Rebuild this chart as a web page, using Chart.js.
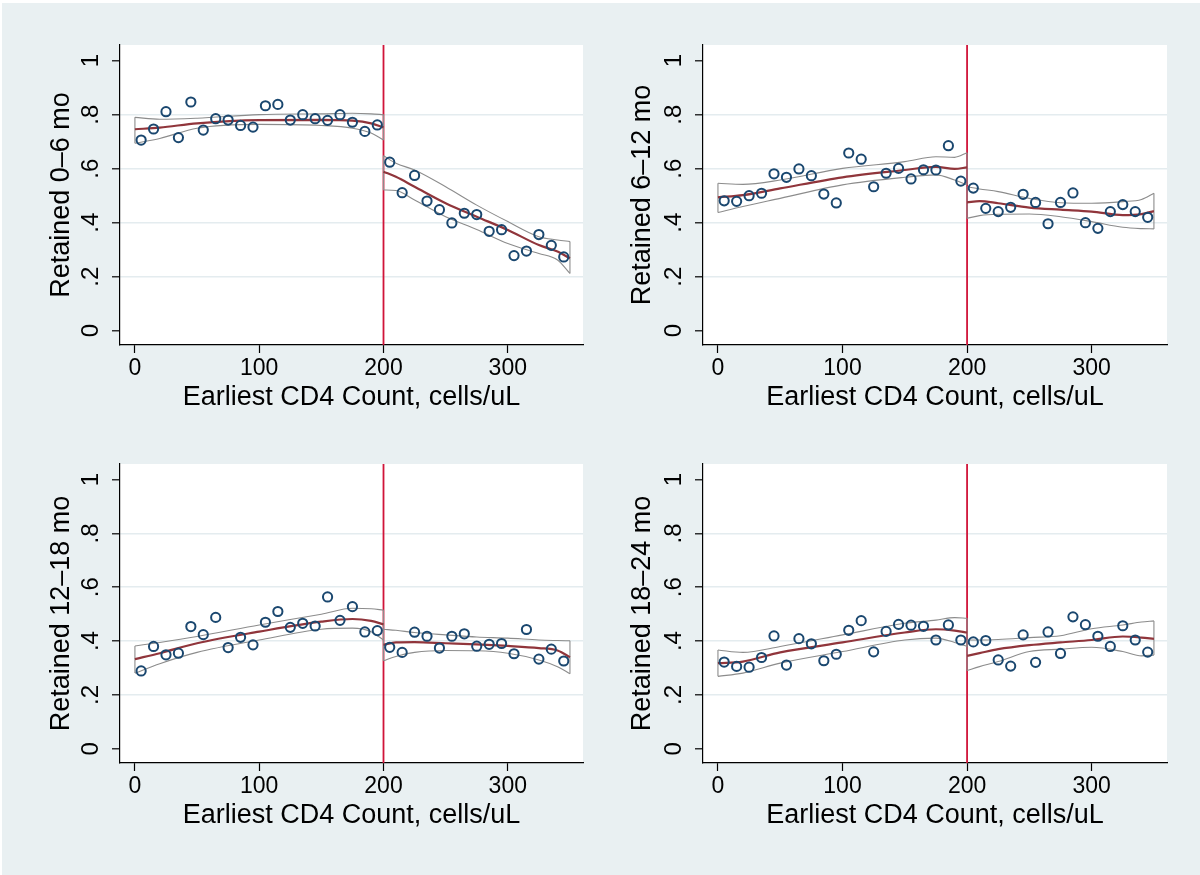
<!DOCTYPE html>
<html>
<head>
<meta charset="utf-8">
<script src="https://cdn.jsdelivr.net/npm/chart.js@4.4.1/dist/chart.umd.min.js"></script>
<style>
  html, body { margin: 0; padding: 0; background: #fff; }
  #page { position: relative; width: 1200px; height: 875px; overflow: hidden; }
  #bg { position: absolute; left: 2px; top: 3px; right: 0; bottom: 0; background: #e9f0f2; }
  canvas { position: absolute; }
</style>
</head>
<body>
<div id="page">
  <div id="bg"></div>
  <canvas id="c1" width="600" height="437" style="left:0;top:0"></canvas>
  <canvas id="c2" width="600" height="437" style="left:600px;top:0"></canvas>
  <canvas id="c3" width="600" height="438" style="left:0;top:437px"></canvas>
  <canvas id="c4" width="600" height="438" style="left:600px;top:437px"></canvas>
</div>
<script>
// bin midpoints (CD4 count)
const binX = [5, 15, 25, 35, 45, 55, 65, 75, 85, 95, 105, 115, 125, 135, 145, 155, 165, 175, 185, 195,
              205, 215, 225, 235, 245, 255, 265, 275, 285, 295, 305, 315, 325, 335, 345];

// share retained per bin
const ret06 = [0.706, 0.747, 0.811, 0.715, 0.847, 0.743, 0.785, 0.780, 0.760, 0.754, 0.833, 0.838, 0.780, 0.800, 0.785, 0.779, 0.800, 0.772, 0.738, 0.762,
               0.624, 0.511, 0.575, 0.480, 0.448, 0.399, 0.435, 0.430, 0.368, 0.374, 0.278, 0.295, 0.356, 0.316, 0.273];
const ret612 = [0.481, 0.479, 0.500, 0.509, 0.581, 0.568, 0.599, 0.574, 0.506, 0.473, 0.658, 0.635, 0.533, 0.583, 0.601, 0.562, 0.596, 0.595, 0.685, 0.554,
                0.528, 0.453, 0.441, 0.457, 0.505, 0.475, 0.396, 0.475, 0.510, 0.400, 0.379, 0.441, 0.467, 0.441, 0.420];
const ret1218 = [0.289, 0.380, 0.349, 0.355, 0.454, 0.424, 0.488, 0.376, 0.414, 0.386, 0.470, 0.510, 0.451, 0.466, 0.456, 0.564, 0.477, 0.528, 0.434, 0.439,
                 0.377, 0.358, 0.433, 0.418, 0.374, 0.418, 0.427, 0.381, 0.388, 0.391, 0.353, 0.443, 0.333, 0.370, 0.326];
const ret1824 = [0.322, 0.306, 0.303, 0.339, 0.419, 0.311, 0.409, 0.390, 0.327, 0.351, 0.440, 0.476, 0.360, 0.436, 0.462, 0.459, 0.455, 0.404, 0.460, 0.404,
                 0.397, 0.402, 0.330, 0.307, 0.423, 0.321, 0.434, 0.354, 0.490, 0.461, 0.418, 0.380, 0.457, 0.404, 0.359];

// local fit + CI, read at these x's
const fitXL = [0, 20, 50, 100, 150, 175, 190, 200];
const fitXR = [200, 210, 225, 250, 275, 300, 325, 340, 350];

const fit06L = [0.746, 0.752, 0.768, 0.780, 0.781, 0.778, 0.768, 0.753];
const hi06L  = [0.790, 0.783, 0.787, 0.800, 0.803, 0.805, 0.803, 0.800];
const lo06L  = [0.694, 0.712, 0.750, 0.764, 0.760, 0.750, 0.732, 0.706];
const fit06R = [0.589, 0.570, 0.533, 0.472, 0.422, 0.373, 0.317, 0.293, 0.268];
const hi06R  = [0.648, 0.620, 0.595, 0.533, 0.465, 0.404, 0.348, 0.336, 0.330];
const lo06R  = [0.521, 0.519, 0.484, 0.422, 0.375, 0.323, 0.286, 0.262, 0.212];

const fit612L = [0.494, 0.502, 0.527, 0.568, 0.595, 0.607, 0.599, 0.605];
const hi612L  = [0.546, 0.542, 0.558, 0.601, 0.626, 0.644, 0.642, 0.659];
const lo612L  = [0.438, 0.460, 0.490, 0.540, 0.568, 0.577, 0.558, 0.540];
const fit612R = [0.475, 0.480, 0.472, 0.456, 0.448, 0.441, 0.428, 0.432, 0.443];
const hi612R  = [0.533, 0.525, 0.515, 0.490, 0.474, 0.472, 0.478, 0.486, 0.509];
const lo612R  = [0.416, 0.426, 0.431, 0.432, 0.422, 0.404, 0.383, 0.378, 0.377];

const fit1218L = [0.333, 0.355, 0.392, 0.435, 0.472, 0.482, 0.475, 0.462];
const hi1218L  = [0.382, 0.395, 0.417, 0.460, 0.500, 0.522, 0.520, 0.515];
const lo1218L  = [0.281, 0.316, 0.358, 0.404, 0.444, 0.448, 0.435, 0.404];
const fit1218R = [0.386, 0.395, 0.396, 0.392, 0.388, 0.382, 0.374, 0.365, 0.340];
const hi1218R  = [0.444, 0.440, 0.432, 0.423, 0.415, 0.411, 0.404, 0.402, 0.401];
const lo1218R  = [0.327, 0.343, 0.358, 0.365, 0.364, 0.355, 0.330, 0.305, 0.279];

const fit1824L = [0.318, 0.324, 0.358, 0.395, 0.432, 0.444, 0.439, 0.432];
const hi1824L  = [0.367, 0.358, 0.380, 0.423, 0.466, 0.478, 0.487, 0.485];
const lo1824L  = [0.269, 0.281, 0.318, 0.361, 0.404, 0.411, 0.395, 0.380];
const fit1824R = [0.345, 0.355, 0.370, 0.385, 0.395, 0.404, 0.417, 0.413, 0.408];
const hi1824R  = [0.404, 0.404, 0.406, 0.413, 0.420, 0.446, 0.460, 0.471, 0.475];
const lo1824R  = [0.291, 0.305, 0.324, 0.361, 0.370, 0.377, 0.361, 0.345, 0.348];

const cutoff = 200;
const xTickVals = [0, 100, 200, 300];
const yTickVals = [0, 0.2, 0.4, 0.6, 0.8, 1];
const yTickLabels = ['0', '.2', '.4', '.6', '.8', '1'];
const xTitle = 'Earliest CD4 Count, cells/uL';
const yTitles = ['Retained 0\u20136 mo', 'Retained 6\u201312 mo', 'Retained 12\u201318 mo', 'Retained 18\u201324 mo'];

const xMin = -12, xMax = 360.5, yMin = -0.053, yMax = 1.058;
const FONT = "'Liberation Sans', Arial, Helvetica, sans-serif";
const NAVY = '#1a476f', MAROON = '#90353b', CIGRAY = '#8c8c8c', XLINE = '#d01439', GRID = '#e4ecef';

const plotBg = {
  id: 'plotBg',
  beforeDraw(chart) {
    const a = chart.chartArea, ctx = chart.ctx;
    ctx.save();
    ctx.fillStyle = '#fff';
    ctx.fillRect(a.left, a.top, a.right - a.left, a.bottom - a.top);
    ctx.restore();
  }
};

function xy(xs, ys) { return xs.map((x, i) => ({ x: x, y: ys[i] })); }

function lineDs(data, color, width, smooth) {
  return {
    data: data, showLine: true, borderColor: color, borderWidth: width,
    pointRadius: 0, pointHoverRadius: 0, fill: false,
    cubicInterpolationMode: smooth ? 'monotone' : 'default', tension: 0
  };
}

function ciBand(xs, hi, lo) {
  const n = xs.length - 1;
  return [
    lineDs(xy(xs, hi), CIGRAY, 1.1, true),
    lineDs(xy(xs, lo), CIGRAY, 1.1, true),
    lineDs([{ x: xs[0], y: lo[0] }, { x: xs[0], y: hi[0] }], CIGRAY, 1.1, false),
    lineDs([{ x: xs[n], y: lo[n] }, { x: xs[n], y: hi[n] }], CIGRAY, 1.1, false)
  ];
}

function makePanel(id, g, vals, fL, hL, lL, fR, hR, lR, yTitle) {
  const datasets = [
    {
      data: xy(binX, vals), showLine: false, pointStyle: 'circle', pointRadius: 4.6,
      pointBorderWidth: 2, pointBorderColor: NAVY, pointBackgroundColor: 'rgba(0,0,0,0)'
    },
    lineDs(xy(fitXL, fL), MAROON, 2.2, true),
    lineDs(xy(fitXR, fR), MAROON, 2.2, true)
  ].concat(ciBand(fitXL, hL, lL), ciBand(fitXR, hR, lR), [
    lineDs([{ x: cutoff, y: yMin }, { x: cutoff, y: yMax }], XLINE, 1.8, false)
  ]);

  new Chart(document.getElementById(id), {
    type: 'scatter',
    data: { datasets: datasets },
    plugins: [plotBg],
    options: {
      responsive: false, animation: false, devicePixelRatio: 1,
      layout: { padding: { left: 0, top: g.T - g.top, right: g.left + g.w - g.R, bottom: 0 } },
      plugins: { legend: { display: false }, tooltip: { enabled: false } },
      scales: {
        x: {
          type: 'linear', min: xMin, max: xMax,
          afterBuildTicks: s => { s.ticks = xTickVals.map(v => ({ value: v })); },
          afterFit: s => { s.height = g.top + g.h - g.B; },
          ticks: {
            color: '#000', font: { family: FONT, size: 23 }, padding: 2,
            minRotation: 0, maxRotation: 0, autoSkip: false,
            callback: (v, i) => String(xTickVals[i])
          },
          grid: { drawOnChartArea: false, drawTicks: true, tickLength: 8, tickColor: '#000', tickWidth: 1.2 },
          border: { display: true, color: '#000', width: 1.2 },
          title: {
            display: true, text: xTitle, color: '#000', font: { family: FONT, size: 27 },
            padding: { top: 0, bottom: g.xTitlePad }
          }
        },
        y: {
          type: 'linear', min: yMin, max: yMax,
          afterBuildTicks: s => { s.ticks = yTickVals.map(v => ({ value: v })); },
          afterFit: s => { s.width = g.L - g.left; },
          ticks: {
            color: '#000', font: { family: FONT, size: 24 }, padding: 11,
            minRotation: 90, maxRotation: 90, crossAlign: 'center', autoSkip: false,
            callback: (v, i) => yTickLabels[i]
          },
          grid: {
            color: c => (c.index === 0 || c.index === yTickVals.length - 1) ? 'rgba(0,0,0,0)' : GRID,
            lineWidth: 1.6, drawTicks: true, tickLength: 8, tickColor: '#000', tickWidth: 1.2
          },
          border: { display: true, color: '#000', width: 1.2 },
          title: {
            display: true, text: yTitle, color: '#000', font: { family: FONT, size: 27 },
            padding: { top: g.yTitleX - 16.2, bottom: 0 }
          }
        }
      }
    }
  });
}

makePanel('c1', { left: 0, top: 0, w: 600, h: 437, L: 120, R: 583, T: 45, B: 345, yTitleX: 62, xTitlePad: 22.8 },
  ret06, fit06L, hi06L, lo06L, fit06R, hi06R, lo06R, yTitles[0]);
makePanel('c2', { left: 600, top: 0, w: 600, h: 437, L: 703, R: 1167, T: 45, B: 345, yTitleX: 43, xTitlePad: 22.8 },
  ret612, fit612L, hi612L, lo612L, fit612R, hi612R, lo612R, yTitles[1]);
makePanel('c3', { left: 0, top: 437, w: 600, h: 438, L: 120, R: 583, T: 464, B: 763, yTitleX: 62, xTitlePad: 42.8 },
  ret1218, fit1218L, hi1218L, lo1218L, fit1218R, hi1218R, lo1218R, yTitles[2]);
makePanel('c4', { left: 600, top: 437, w: 600, h: 438, L: 703, R: 1167, T: 464, B: 763, yTitleX: 43, xTitlePad: 42.8 },
  ret1824, fit1824L, hi1824L, lo1824L, fit1824R, hi1824R, lo1824R, yTitles[3]);
</script>
</body>
</html>
